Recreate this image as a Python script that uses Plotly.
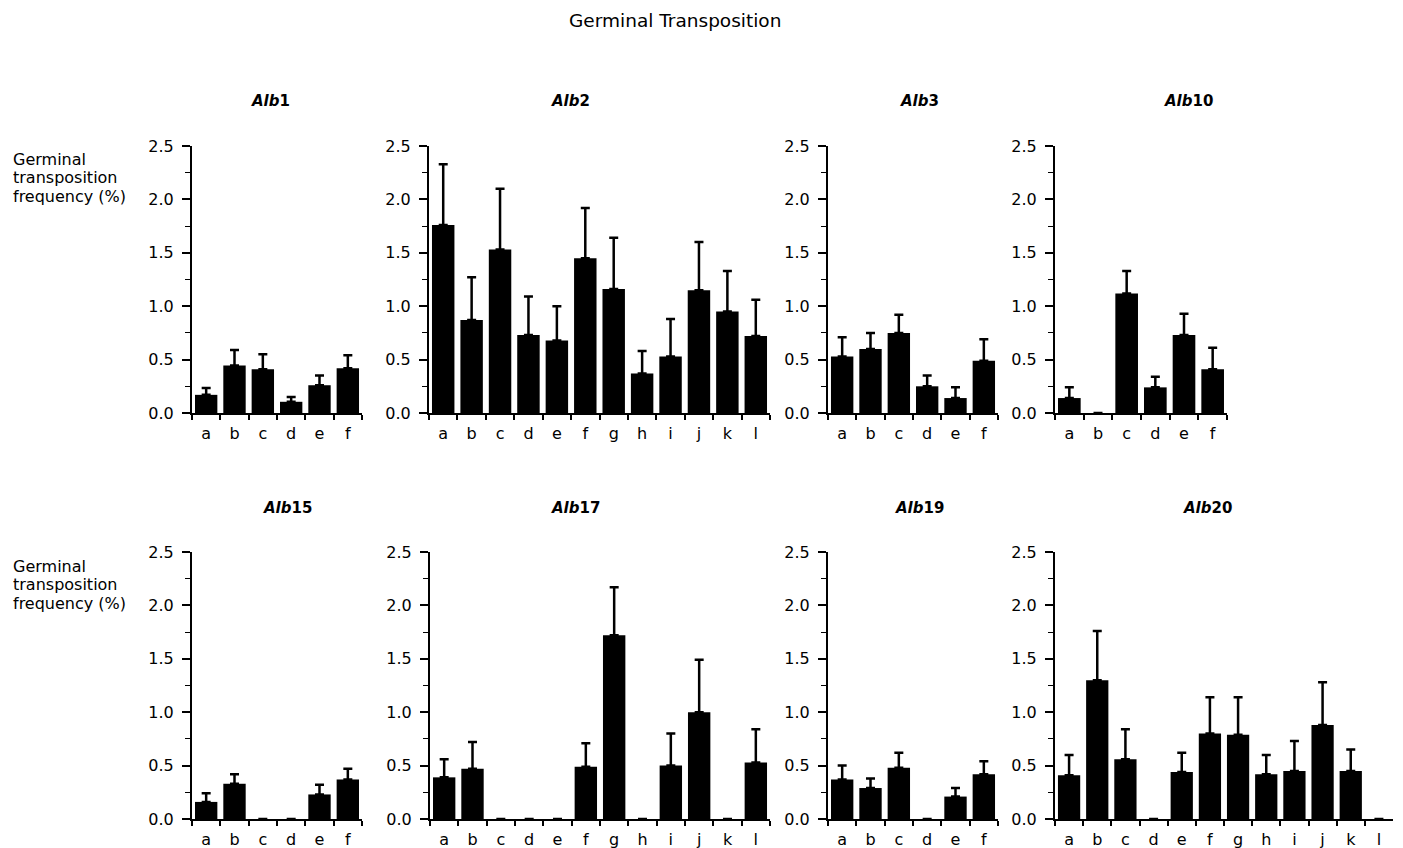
import plotly.graph_objects as go

W, H = 1403, 848

cats6 = ["a", "b", "c", "d", "e", "f"]
cats12 = ["a", "b", "c", "d", "e", "f", "g", "h", "i", "j", "k", "l"]

panel_names = ["1", "2", "3", "10", "15", "17", "19", "20"]

alb1_val = [0.17, 0.445, 0.41, 0.105, 0.26, 0.42]
alb1_sem = [0.065, 0.145, 0.14, 0.045, 0.09, 0.12]

alb2_val = [1.76, 0.87, 1.53, 0.73, 0.68, 1.45, 1.16, 0.37, 0.53, 1.15, 0.95, 0.72]
alb2_sem = [0.57, 0.40, 0.57, 0.36, 0.32, 0.47, 0.48, 0.21, 0.35, 0.45, 0.38, 0.34]

alb3_val = [0.53, 0.60, 0.75, 0.25, 0.14, 0.49]
alb3_sem = [0.18, 0.15, 0.17, 0.10, 0.10, 0.20]

alb10_val = [0.14, 0.0, 1.12, 0.24, 0.73, 0.41]
alb10_sem = [0.10, 0.0, 0.21, 0.10, 0.20, 0.20]

alb15_val = [0.16, 0.33, 0.0, 0.0, 0.23, 0.37]
alb15_sem = [0.08, 0.09, 0.0, 0.0, 0.09, 0.10]

alb17_val = [0.39, 0.47, 0.0, 0.0, 0.0, 0.49, 1.72, 0.0, 0.50, 1.00, 0.0, 0.53]
alb17_sem = [0.17, 0.25, 0.0, 0.0, 0.0, 0.22, 0.45, 0.0, 0.30, 0.49, 0.0, 0.31]

alb19_val = [0.37, 0.29, 0.48, 0.0, 0.21, 0.42]
alb19_sem = [0.13, 0.09, 0.14, 0.0, 0.08, 0.12]

alb20_val = [0.41, 1.30, 0.56, 0.0, 0.44, 0.80, 0.79, 0.42, 0.45, 0.88, 0.45, 0.0]
alb20_sem = [0.19, 0.46, 0.28, 0.0, 0.18, 0.34, 0.35, 0.18, 0.28, 0.40, 0.20, 0.0]

y_ticks = [0.0, 0.5, 1.0, 1.5, 2.0, 2.5]
y_ticklabels = ["0.0", "0.5", "1.0", "1.5", "2.0", "2.5"]

main_title = "Germinal Transposition"
ylabel_lines = ["Germinal", "transposition", "frequency (%)"]

panels = [
    (cats6, alb1_val, alb1_sem),
    (cats12, alb2_val, alb2_sem),
    (cats6, alb3_val, alb3_sem),
    (cats6, alb10_val, alb10_sem),
    (cats6, alb15_val, alb15_sem),
    (cats12, alb17_val, alb17_sem),
    (cats6, alb19_val, alb19_sem),
    (cats12, alb20_val, alb20_sem),
]

# layout geometry (pixels)
x_px = [(192, 362), (429, 770), (828, 998), (1055, 1227),
        (192, 362), (430, 770), (828, 998), (1055, 1393)]
row_px = [(146, 413), (552, 819)]
title_px = [(270, 101), (570, 101), (920, 101), (1188, 101),
            (287, 508), (575, 508), (920, 508), (1207, 508)]
ylabel_px = [(11, [159, 177.5, 196]), (11, [566, 584.5, 603])]

FONT = "DejaVu Sans"

fig = go.Figure()
layout = dict(
    width=W, height=H, autosize=False,
    margin=dict(l=0, r=0, t=0, b=0, pad=0),
    paper_bgcolor="white", plot_bgcolor="white",
    showlegend=False,
    font=dict(family=FONT, size=16, color="black"),
)
annotations = []

for i, (cats, vals, sems) in enumerate(panels):
    k = i + 1
    xa = "x" if k == 1 else f"x{k}"
    ya = "y" if k == 1 else f"y{k}"
    fig.add_trace(go.Bar(
        x=cats, y=vals, xaxis=xa, yaxis=ya,
        marker=dict(color="black", line=dict(width=0)),
        width=0.79,
        error_y=dict(type="data", symmetric=False, array=sems,
                     arrayminus=[0] * len(sems), color="black",
                     thickness=2.5, width=4.5),
        hoverinfo="skip",
    ))
    x0, x1 = x_px[i]
    ytop, ybot = row_px[0] if i < 4 else row_px[1]
    layout["xaxis" if k == 1 else f"xaxis{k}"] = dict(
        domain=[x0 / W, x1 / W], anchor=ya, type="category",
        range=[-0.5, len(cats) - 0.5], automargin=False,
        showline=True, linewidth=2, linecolor="black",
        ticks="outside", tickson="boundaries", ticklen=5, tickwidth=1.5,
        tickcolor="black", showgrid=False, zeroline=False,
        ticklabelstandoff=5,
        tickfont=dict(family=FONT, size=16, color="black"),
        fixedrange=True,
    )
    layout["yaxis" if k == 1 else f"yaxis{k}"] = dict(
        domain=[1 - ybot / H, 1 - ytop / H], anchor=xa,
        range=[0, 2.5], tickvals=y_ticks, ticktext=y_ticklabels,
        automargin=False,
        showline=True, linewidth=2, linecolor="black",
        ticks="outside", ticklen=8, tickwidth=1.5, tickcolor="black",
        minor=dict(dtick=0.25, ticks="outside", ticklen=5, tickwidth=1.2,
                   tickcolor="black", showgrid=False),
        showgrid=False, zeroline=False,
        ticklabelstandoff=5,
        tickfont=dict(family=FONT, size=16, color="black"),
        fixedrange=True,
    )
    tx, ty = title_px[i]
    annotations.append(dict(
        text=f"<b><i>Alb</i>{panel_names[i]}</b>", x=tx / W, y=1 - ty / H,
        xref="paper", yref="paper", xanchor="center", yanchor="middle",
        showarrow=False, font=dict(family=FONT, size=15, color="black"),
    ))

annotations.append(dict(
    text=main_title, x=675 / W, y=1 - 20 / H, xref="paper", yref="paper",
    xanchor="center", yanchor="middle", showarrow=False,
    font=dict(family=FONT, size=18.5, color="black"),
))

for lx, lys in ylabel_px:
    for line, ly in zip(ylabel_lines, lys):
        annotations.append(dict(
            text=line, x=lx / W, y=1 - ly / H, xref="paper", yref="paper",
            xanchor="left", yanchor="middle", showarrow=False,
            font=dict(family=FONT, size=16, color="black"),
        ))

layout["annotations"] = annotations
fig.update_layout(**layout)
fig.write_html("out.html",
               config={"displayModeBar": False},
               post_script="document.body.style.margin='0px';"
                           "document.body.style.overflow='hidden';")
